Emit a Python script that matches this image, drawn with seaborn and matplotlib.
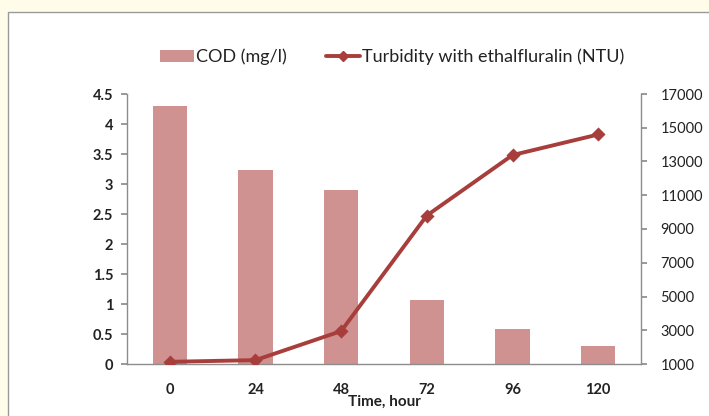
import matplotlib
matplotlib.use("Agg")
import matplotlib.pyplot as plt
import seaborn as sns
import pandas as pd
from matplotlib.patches import Rectangle
from matplotlib.lines import Line2D
from matplotlib.patches import Patch

hours = ["0", "24", "48", "72", "96", "120"]
cod = [4.3, 3.23, 2.9, 1.07, 0.58, 0.3]
turbidity = [1130, 1230, 2950, 9800, 13380, 14600]
left_ticks = [0, 0.5, 1, 1.5, 2, 2.5, 3, 3.5, 4, 4.5]
left_labels = ["0", "0.5", "1", "1.5", "2", "2.5", "3", "3.5", "4", "4.5"]
right_ticks = [1000, 3000, 5000, 7000, 9000, 11000, 13000, 15000, 17000]

BAR = "#D09191"
LINE = "#A83E3B"
GRID = "#8C8C8C"

sns.set_theme(style="white")
plt.rcParams["font.family"] = ["Lato", "DejaVu Sans"]

W, H = 709, 416
fig = plt.figure(figsize=(W / 100, H / 100), dpi=100)
fig.patch.set_facecolor("#FFFDE9")
fig.patches.append(Rectangle((8 / W, -0.1), 1.2, (H - 12) / H + 0.1, transform=fig.transFigure,
                             facecolor="white", edgecolor="#9A9A9A", linewidth=1.0, zorder=-10))

ax = fig.add_axes([127 / W, 52 / H, (641 - 127) / W, (364 - 94) / H])
ax.set_facecolor("none")
df = pd.DataFrame({"hour": hours, "cod": cod, "turb": turbidity})
sns.barplot(data=df, x="hour", y="cod", order=hours, color=BAR, saturation=1,
            width=0.4, ax=ax)
for p in ax.patches:
    p.set_edgecolor("none")
ax.set_ylim(0, 4.5)
ax.set_xlim(-0.5, 5.5)
ax.set_yticks(left_ticks)
ax.set_yticklabels(left_labels, fontsize=10.5, fontweight="bold", color="#222222")
ax.set_xticks(range(len(hours)))
ax.set_xticklabels(hours, fontsize=10.5, fontweight="bold", color="#222222")
ax.set_ylabel("")
ax.set_xlabel("Time, hour", fontsize=11, fontweight="bold", color="#222222", labelpad=-2)
ax.tick_params(axis="y", which="both", left=True, length=4, color=GRID, pad=6)
ax.tick_params(axis="x", bottom=False, pad=8)
for s in ["top", "right"]:
    ax.spines[s].set_visible(False)
for s in ["left", "bottom"]:
    ax.spines[s].set_color(GRID)
    ax.spines[s].set_linewidth(1.0)

ax2 = ax.twinx()
sns.pointplot(data=df, x="hour", y="turb", order=hours, color=LINE, markers="D",
              markersize=5, linewidth=2.8, ax=ax2)
ax2.set_xlim(-0.5, 5.5)
ax2.set_ylim(1000, 17000)
ax2.set_yticks(right_ticks)
ax2.set_yticklabels([str(t) for t in right_ticks], fontsize=10.5, color="#222222")
ax2.set_ylabel("")
ax2.set_xlabel("")
ax2.tick_params(axis="y", right=True, length=4, color=GRID, pad=10)
for s in ["top", "left", "bottom"]:
    ax2.spines[s].set_visible(False)
ax2.spines["right"].set_color(GRID)
ax2.spines["right"].set_linewidth(1.0)

handles = [Patch(facecolor=BAR, edgecolor="none", label="COD (mg/l)"),
           Line2D([], [], color=LINE, linewidth=2.8, marker="D", markersize=5,
                  label="Turbidity with ethalfluralin (NTU)")]
fig.legend(handles=handles, loc="center", bbox_to_anchor=(392 / W, 1 - 57 / H), ncol=2,
           frameon=False, fontsize=13, handlelength=1.9, handleheight=0.66,
           handletextpad=0.08, columnspacing=2.2, labelcolor="#222222")

fig.savefig("out.png", dpi=100, facecolor=fig.get_facecolor())
